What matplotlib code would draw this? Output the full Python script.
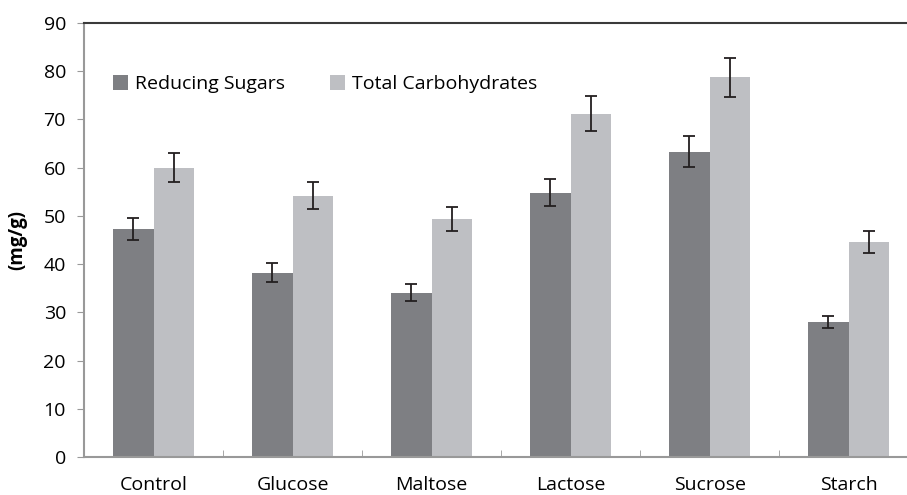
import numpy as np
import matplotlib
matplotlib.use('Agg')
import matplotlib.pyplot as plt

categories = ['Control', 'Glucose', 'Maltose', 'Lactose', 'Sucrose', 'Starch']
reducing = [47.2, 38.2, 34.1, 54.8, 63.3, 28.0]
reducing_err = [2.3, 2.0, 1.8, 2.8, 3.2, 1.3]
total = [60.0, 54.2, 49.3, 71.2, 78.7, 44.6]
total_err = [3.0, 2.8, 2.5, 3.6, 4.0, 2.2]

plt.rcParams['font.family'] = ['Open Sans', 'DejaVu Sans']

fig = plt.figure(figsize=(9.07, 4.95), dpi=100)
ax = fig.add_axes([84 / 907, 1 - 457 / 495, (907 - 84) / 907, (457 - 23) / 495])

x = np.arange(len(categories))
w = 0.29
err_style = dict(ecolor='#231f20', elinewidth=1.3, capsize=4, capthick=1.3)
ax.bar(x - w / 2, reducing, w, yerr=reducing_err, color='#7e7f83',
       label='Reducing Sugars', error_kw=err_style)
ax.bar(x + w / 2, total, w, yerr=total_err, color='#bebfc3',
       label='Total Carbohydrates', error_kw=err_style)

ax.set_xlim(-0.5, 5.42)
ax.set_ylim(0, 90)
ax.set_yticks(range(0, 91, 10))
ax.set_xticks(x)
ax.set_xticklabels(categories)
ax.set_xticks(np.arange(0.5, 5.5, 1), minor=True)
ax.tick_params(axis='x', which='major', length=0, pad=14, labelsize=14)
ax.tick_params(axis='x', which='minor', direction='in', length=5, color='#999999')
ax.tick_params(axis='y', direction='out', length=5, color='#999999', labelsize=14, pad=8)

for s in ['left', 'bottom']:
    ax.spines[s].set_color('#999999')
    ax.spines[s].set_linewidth(1.5)
ax.spines['top'].set_color('#3a3a3a')
ax.spines['top'].set_linewidth(1.5)
ax.spines['right'].set_visible(False)

ax.set_ylabel('(mg/g)', fontweight='bold', fontsize=13.5, labelpad=12)

ax.legend(loc='upper left', bbox_to_anchor=(0.014, 0.92), ncol=2, frameon=False,
          fontsize=14, handlelength=0.75, handleheight=0.75, handletextpad=0.4,
          columnspacing=2.3)

fig.savefig('out.png', dpi=100)
